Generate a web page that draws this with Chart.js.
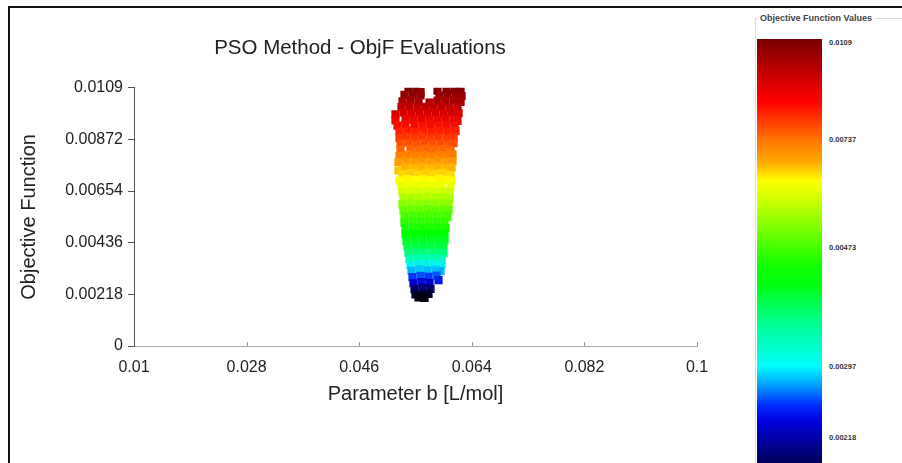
<!DOCTYPE html>
<html>
<head>
<meta charset="utf-8">
<script src="https://cdn.jsdelivr.net/npm/chart.js@4.4.1/dist/chart.umd.min.js"></script>
<style>
  html, body { margin: 0; padding: 0; background: #fff; }
  body { width: 902px; height: 463px; overflow: hidden; position: relative; font-family: "Liberation Sans", Arial, sans-serif; }
  #frame { position: absolute; left: 8px; top: 6px; width: 900px; height: 470px; border-top: 2px solid #111; border-left: 2px solid #111; }
  #chartBox { position: absolute; left: 10px; top: 8px; width: 700px; height: 455px; }
  #cbFrame { position: absolute; left: 755px; top: 18px; width: 200px; height: 460px; border-top: 1px solid #ddd; border-left: 1px solid #ddd; }
  #cbTitle { position: absolute; left: 757px; top: 13px; padding: 0 3px; background: #fff; font-size: 9px; font-weight: bold; color: #444; white-space: nowrap; }
  #cbBar { position: absolute; left: 757px; top: 39px; width: 65px; height: 430px; }
  .cbLabel { position: absolute; left: 829px; font-size: 7.5px; font-weight: bold; color: #333; line-height: 10px; }
</style>
</head>
<body>
<div id="frame"></div>
<div id="chartBox"><canvas id="psoChart" width="700" height="455"></canvas></div>
<div id="cbFrame"></div>
<div id="cbTitle">Objective Function Values</div>
<div id="cbBar"></div>
<div id="cbLabels"></div>
<script>
// axis ticks
const xTicks = [0.01, 0.028, 0.046, 0.064, 0.082, 0.1];
const xTickLabels = ['0.01', '0.028', '0.046', '0.064', '0.082', '0.1'];
const yTicks = [0, 0.00218, 0.00436, 0.00654, 0.00872, 0.0109];
const yTickLabels = ['0', '0.00218', '0.00436', '0.00654', '0.00872', '0.0109'];

// colorbar labels (top to bottom)
const colorbarLabels = ['0.0109', '0.00737', '0.00473', '0.00297', '0.00218'];

// PSO evaluations: [parameter b, objective function]
const evaluations = [
  [0.05388, 0.01088], [0.05516, 0.01085], [0.0558, 0.01072], [0.05852, 0.01078], [0.05996, 0.01083], [0.06124, 0.01086], [0.0622, 0.01081],
  [0.05324, 0.0106], [0.05452, 0.01063], [0.0558, 0.01058], [0.05884, 0.01057], [0.06012, 0.01064], [0.0614, 0.0106], [0.06236, 0.01055],
  [0.05292, 0.01033], [0.0542, 0.01038], [0.05548, 0.0103], [0.05724, 0.01028], [0.05852, 0.01036], [0.0598, 0.01032], [0.06108, 0.01038], [0.0622, 0.01031],
  [0.05276, 0.01008], [0.05404, 0.01012], [0.05532, 0.01005], [0.0566, 0.0101], [0.05788, 0.01006], [0.05916, 0.01012], [0.06044, 0.01004], [0.06172, 0.01009],
  [0.0518, 0.00978], [0.05308, 0.00986], [0.05436, 0.0098], [0.05564, 0.00988], [0.05692, 0.00982], [0.0582, 0.00985], [0.05948, 0.0098], [0.06076, 0.00987], [0.06188, 0.00983],
  [0.0518, 0.00952], [0.0534, 0.0096], [0.05468, 0.00955], [0.05596, 0.00962], [0.05724, 0.00957], [0.05852, 0.00953], [0.0598, 0.0096], [0.06108, 0.00956], [0.06172, 0.0095],
  [0.05212, 0.0093], [0.0534, 0.00936], [0.05484, 0.00935], [0.05612, 0.0093], [0.0574, 0.00937], [0.05868, 0.00929], [0.05996, 0.00934], [0.06124, 0.0093],
  [0.05244, 0.00905], [0.05372, 0.0091], [0.055, 0.00903], [0.05628, 0.00909], [0.05756, 0.00904], [0.05884, 0.0091], [0.06012, 0.00905], [0.0614, 0.00908],
  [0.05244, 0.00878], [0.05356, 0.00884], [0.05484, 0.0088], [0.05612, 0.00885], [0.0574, 0.00879], [0.05868, 0.00883], [0.05996, 0.00877], [0.06108, 0.00882],
  [0.0526, 0.00853], [0.05388, 0.00858], [0.05516, 0.00852], [0.05644, 0.00859], [0.05772, 0.00854], [0.059, 0.00857], [0.06028, 0.00851], [0.06108, 0.00856],
  [0.0526, 0.00828], [0.0542, 0.00832], [0.05548, 0.00827], [0.05676, 0.00833], [0.05804, 0.00829], [0.05932, 0.00831], [0.0606, 0.00826],
  [0.05244, 0.00802], [0.05372, 0.00808], [0.055, 0.00803], [0.05628, 0.00807], [0.05756, 0.00801], [0.05884, 0.00806], [0.06012, 0.00804], [0.06092, 0.00809],
  [0.05228, 0.00776], [0.05356, 0.00781], [0.05484, 0.00775], [0.05612, 0.0078], [0.0574, 0.00777], [0.05868, 0.00782], [0.05996, 0.00776], [0.06092, 0.0078],
  [0.05228, 0.0074], [0.0534, 0.00755], [0.05468, 0.0075], [0.05596, 0.00756], [0.05724, 0.00751], [0.05852, 0.00757], [0.0598, 0.0075], [0.06076, 0.00754],
  [0.05292, 0.00725], [0.0542, 0.0073], [0.05548, 0.00724], [0.05676, 0.00731], [0.05804, 0.00726], [0.05932, 0.00729], [0.0606, 0.00723],
  [0.05244, 0.00698], [0.05372, 0.00705], [0.055, 0.007], [0.05628, 0.00704], [0.05756, 0.00699], [0.05884, 0.00706], [0.06012, 0.00701], [0.06076, 0.00697],
  [0.05276, 0.00674], [0.05404, 0.0068], [0.05532, 0.00675], [0.0566, 0.00679], [0.05788, 0.00673], [0.05916, 0.00678], [0.0606, 0.00676],
  [0.05292, 0.00649], [0.0542, 0.00655], [0.05548, 0.0065], [0.05676, 0.00654], [0.05804, 0.00648], [0.05932, 0.00653], [0.06044, 0.0065],
  [0.05308, 0.00623], [0.05436, 0.00628], [0.05564, 0.00624], [0.05692, 0.0063], [0.0582, 0.00625], [0.05948, 0.00627], [0.06044, 0.00622],
  [0.05292, 0.00598], [0.0542, 0.00603], [0.05548, 0.00597], [0.05676, 0.00602], [0.05804, 0.00599], [0.05932, 0.00604], [0.06028, 0.006],
  [0.05308, 0.00572], [0.05436, 0.00577], [0.05564, 0.00573], [0.05692, 0.00578], [0.0582, 0.00571], [0.05948, 0.00576], [0.06028, 0.00574],
  [0.05324, 0.00546], [0.05452, 0.00551], [0.0558, 0.00547], [0.05708, 0.00552], [0.05836, 0.00548], [0.05964, 0.0055], [0.06012, 0.00545],
  [0.05324, 0.0052], [0.05452, 0.00526], [0.0558, 0.00522], [0.05708, 0.00527], [0.05836, 0.00521], [0.05964, 0.00525],
  [0.0534, 0.00495], [0.05468, 0.005], [0.05596, 0.00496], [0.05724, 0.00501], [0.05852, 0.00497], [0.0598, 0.00499],
  [0.0534, 0.0047], [0.05468, 0.00475], [0.05596, 0.00471], [0.05724, 0.00476], [0.05852, 0.0047], [0.05964, 0.00474],
  [0.05356, 0.00444], [0.05484, 0.00449], [0.05612, 0.00445], [0.0574, 0.0045], [0.05868, 0.00446], [0.05964, 0.00448],
  [0.05372, 0.00419], [0.055, 0.00424], [0.05628, 0.0042], [0.05756, 0.00425], [0.05884, 0.00421], [0.05948, 0.00423],
  [0.05388, 0.00393], [0.05516, 0.00398], [0.05644, 0.00394], [0.05772, 0.00399], [0.059, 0.00395], [0.05948, 0.00392],
  [0.05404, 0.00368], [0.05532, 0.00373], [0.0566, 0.00369], [0.05788, 0.00372], [0.05916, 0.00367],
  [0.0542, 0.00342], [0.05548, 0.00347], [0.05676, 0.00343], [0.05804, 0.00348], [0.05916, 0.00344],
  [0.05436, 0.00317], [0.05564, 0.00322], [0.05692, 0.00318], [0.0582, 0.00321], [0.059, 0.00316],
  [0.05452, 0.00291], [0.0558, 0.00296], [0.05708, 0.00292], [0.05836, 0.00297], [0.05868, 0.00278],
  [0.05468, 0.00265], [0.05596, 0.0027], [0.05724, 0.00266],
  [0.05484, 0.0024], [0.05612, 0.00245], [0.0574, 0.00241],
  [0.055, 0.00218], [0.05612, 0.00214], [0.05708, 0.0022],
  [0.05548, 0.00205], [0.05644, 0.00203]
];

// colour map used for the markers: [objF, r, g, b]
const markerColorStops = [
  [0.00200, 0, 0, 8], [0.00235, 0, 0, 80], [0.00265, 0, 0, 200], [0.00290, 0, 48, 255],
  [0.00310, 0, 160, 255], [0.00335, 0, 240, 255], [0.00370, 0, 255, 176], [0.00410, 0, 255, 80],
  [0.00470, 0, 255, 0], [0.00560, 80, 255, 0], [0.00620, 168, 255, 0], [0.00670, 232, 255, 0],
  [0.00700, 255, 255, 0], [0.00730, 255, 208, 0], [0.00770, 255, 160, 0], [0.00820, 255, 112, 0],
  [0.00870, 255, 64, 0], [0.00920, 255, 16, 0], [0.00980, 216, 0, 0], [0.01030, 168, 0, 0], [0.01090, 122, 0, 0]
];

function colorFor(f) {
  const s = markerColorStops;
  if (f <= s[0][0]) return `rgb(${s[0][1]},${s[0][2]},${s[0][3]})`;
  for (let i = 1; i < s.length; i++) {
    if (f <= s[i][0]) {
      const t = (f - s[i - 1][0]) / (s[i][0] - s[i - 1][0]);
      const c = [1, 2, 3].map(k => Math.round(s[i - 1][k] + t * (s[i][k] - s[i - 1][k])));
      return `rgb(${c[0]},${c[1]},${c[2]})`;
    }
  }
  const l = s[s.length - 1];
  return `rgb(${l[1]},${l[2]},${l[3]})`;
}

// small inward tick marks on the x axis
const xTickMarks = {
  id: 'xTickMarks',
  afterDatasetsDraw(chart) {
    const { ctx, scales: { x } } = chart;
    ctx.save();
    ctx.strokeStyle = '#999';
    ctx.lineWidth = 1;
    x.ticks.forEach((t, i) => {
      if (i === 0) return;
      const px = Math.round(x.getPixelForValue(t.value)) + 0.5;
      ctx.beginPath();
      ctx.moveTo(px, x.top);
      ctx.lineTo(px, x.top - 4);
      ctx.stroke();
    });
    ctx.restore();
  }
};

const font = "'Liberation Sans', Arial, sans-serif";
const ctx = document.getElementById('psoChart').getContext('2d');

new Chart(ctx, {
  type: 'scatter',
  data: {
    datasets: [{
      label: 'ObjF',
      data: evaluations.map(e => ({ x: e[0], y: e[1] })),
      pointStyle: 'rect',
      pointRadius: 5.8,
      pointBorderWidth: 0,
      pointBackgroundColor: evaluations.map(e => colorFor(e[1])),
      pointBorderColor: 'rgba(0,0,0,0)'
    }]
  },
  options: {
    responsive: false,
    animation: false,
    layout: { padding: { left: 0, right: 0, top: 0, bottom: 50 } },
    plugins: {
      legend: { display: false },
      tooltip: { enabled: false },
      title: {
        display: true,
        text: 'PSO Method - ObjF Evaluations',
        color: '#222',
        font: { family: font, size: 20.5, weight: 'normal' },
        padding: { top: 27.6, bottom: 27.6 }
      }
    },
    scales: {
      x: {
        type: 'linear',
        min: 0.01,
        max: 0.1,
        afterBuildTicks: scale => { scale.ticks = xTicks.map(v => ({ value: v })); },
        afterFit: scale => { scale.height = 67; scale.paddingRight = 13; scale.paddingLeft = 0; },
        ticks: {
          padding: 12,
          color: '#222',
          font: { family: font, size: 16 },
          callback: (v, i) => xTickLabels[i]
        },
        grid: { display: false, drawTicks: false },
        border: { display: true, color: '#aaa', width: 1 },
        title: {
          display: true,
          text: 'Parameter b [L/mol]',
          color: '#222',
          font: { family: font, size: 20 },
          padding: { top: 0, bottom: 7 }
        }
      },
      y: {
        type: 'linear',
        min: 0,
        max: 0.0109,
        afterBuildTicks: scale => { scale.ticks = yTicks.map(v => ({ value: v })); },
        afterFit: scale => { scale.width = 124; },
        ticks: {
          padding: 5,
          color: '#222',
          font: { family: font, size: 16 },
          callback: (v, i) => yTickLabels[i]
        },
        grid: { display: true, drawOnChartArea: false, drawTicks: true, tickLength: 6, tickColor: '#555' },
        border: { display: true, color: '#555', width: 1 },
        title: {
          display: true,
          text: 'Objective Function',
          color: '#222',
          font: { family: font, size: 20 },
          padding: { top: 7, bottom: 0 }
        }
      }
    }
  },
  plugins: [xTickMarks]
});

// colour bar legend on the right
document.getElementById('cbBar').style.background = 'linear-gradient(to bottom,' +
  '#780000 0%, #a80000 5%, #e00000 11%, #ff0000 14.6%, #ff3a00 19%, #ff7a00 24%, #ffaa00 28.7%,' +
  '#ffff00 33%, #c8ff00 38%, #70ff00 45%, #10ff00 53%, #00ff10 57%, #00ff90 66%, #00ffd0 72%,' +
  '#00ffff 76%, #00a0ff 80.5%, #0030ff 85%, #0000e0 88.7%, #000090 94.6%, #00004a 100%)';

const cbLabelTops = [43, 140, 248, 367, 438];
const cbHolder = document.getElementById('cbLabels');
colorbarLabels.forEach((txt, i) => {
  const d = document.createElement('div');
  d.className = 'cbLabel';
  d.style.top = (cbLabelTops[i] - 5) + 'px';
  d.textContent = txt;
  cbHolder.appendChild(d);
});
</script>
</body>
</html>
